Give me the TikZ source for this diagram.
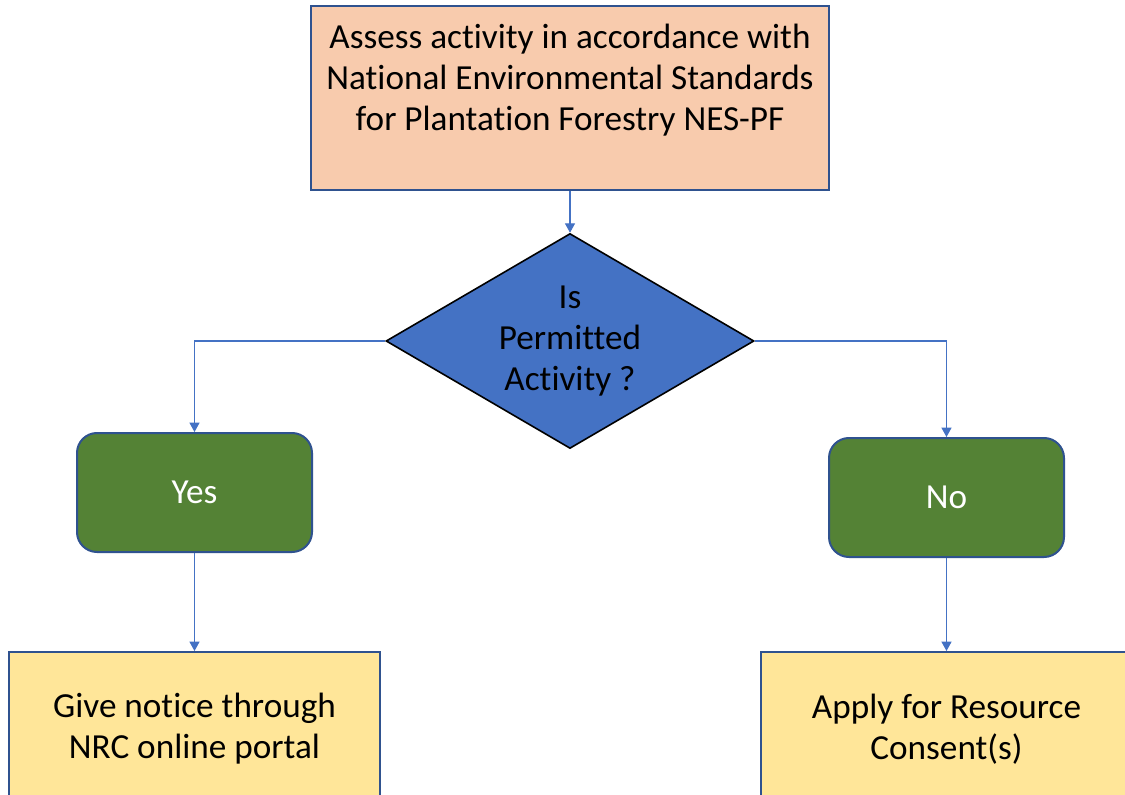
\documentclass[tikz,border=0pt]{standalone}
\usepackage{fontspec}
\setmainfont{Carlito}[Ligatures={NoCommon,NoRare,NoContextual}]
\usetikzlibrary{shapes.geometric,arrows.meta}
\definecolor{peach}{HTML}{F8CBAD}
\definecolor{bluefill}{HTML}{4472C4}
\definecolor{greenfill}{HTML}{548235}
\definecolor{yellowfill}{HTML}{FFE699}
\definecolor{edgeblue}{HTML}{2F528F}
\definecolor{linkblue}{HTML}{4472C4}
\tikzset{
  boxtxt/.style={font=\fontsize{26.4}{30.75}\selectfont, align=center, inner sep=0pt},
  assessbox/.style={boxtxt, draw=edgeblue, line width=1.5pt, fill=peach, minimum width=388.5pt, minimum height=138pt},
  decide/.style={boxtxt, diamond, aspect=1.71, draw=black, line width=1.2pt, fill=bluefill, minimum width=276pt, minimum height=161.25pt},
  answer/.style={boxtxt, text=white, draw=edgeblue, line width=1.5pt, fill=greenfill, rounded corners=15pt, minimum width=176.25pt, minimum height=89.25pt},
  outcome/.style={boxtxt, draw=edgeblue, line width=1.5pt, fill=yellowfill, minimum width=278.25pt, minimum height=115.5pt},
  link/.style={draw=linkblue, line width=0.8pt, -{Triangle[width=7.5pt,length=7pt]}}
}
\begin{document}
\begin{tikzpicture}[x=0.75pt,y=-0.75pt]
\useasboundingbox (0,0) rectangle (1125,795);
\clip (0,0) rectangle (1125,795);
\fill[white] (0,0) rectangle (1125,795);
\node[assessbox] (assess) at (570,98) {Assess activity in accordance with\\National Environmental Standards\\for Plantation Forestry NES-PF\\ ~};
\node[decide] (q) at (570,341) {Is\\Permitted\\Activity ?};
\node[answer] (yes) at (194.5,492.5) {Yes};
\node[answer] (no) at (946.5,497.5) {No};
\node[outcome] (notice) at (194.5,729) {Give notice through\\NRC online portal};
\node[outcome] (consent) at (946.5,729) {Apply for Resource\\Consent(s)};
\draw[link] (assess.south) -- (q.north);
\draw[link] (q.west) -| (yes.north);
\draw[link] (q.east) -| (no.north);
\draw[link] (yes.south) -- (notice.north);
\draw[link] (no.south) -- (consent.north);
\end{tikzpicture}
\end{document}
